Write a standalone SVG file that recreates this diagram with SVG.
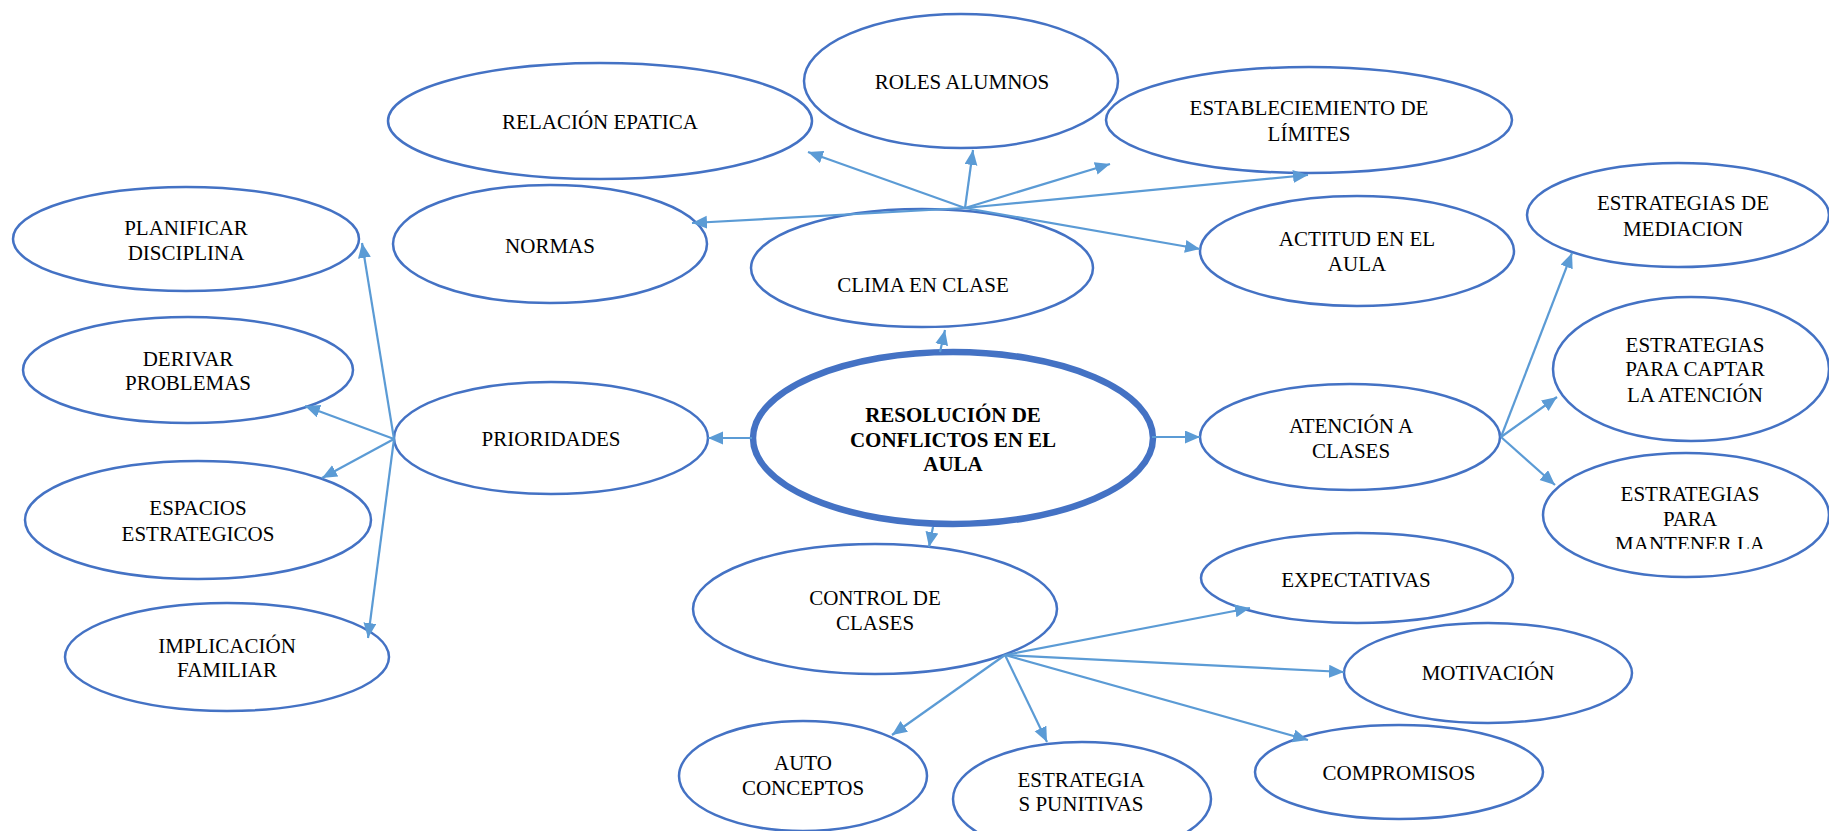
<svg xmlns="http://www.w3.org/2000/svg" width="1829" height="831" viewBox="0 0 1829 831">
<style>
.n ellipse{fill:#fff;stroke:#4472C4;stroke-width:2.5}
.n text{font-family:"Liberation Serif","Times New Roman",serif;font-size:21px;fill:#000;text-anchor:middle}
#central ellipse{stroke-width:6.5}
#central text{font-weight:bold}
#connectors line{stroke:#5B9BD5;stroke-width:2.2;marker-end:url(#ah)}
</style>
<defs>
<marker id="ah" markerUnits="userSpaceOnUse" markerWidth="16" markerHeight="14" refX="15" refY="6.5" orient="auto">
<path d="M0,0 L15,6.5 L0,13 Z" fill="#5B9BD5"/>
</marker>
<clipPath id="clipMant"><rect x="1540" y="440" width="289" height="109"/></clipPath>
</defs>
<rect width="1829" height="831" fill="#fff"/>

<g class="n" id="relacion"><ellipse cx="600" cy="121" rx="212" ry="58"/><text x="600" y="129">RELACIÓN EPATICA</text></g>
<g class="n" id="roles"><ellipse cx="961" cy="81" rx="157" ry="67"/><text x="962" y="89">ROLES ALUMNOS</text></g>
<g class="n" id="limites"><ellipse cx="1309" cy="120" rx="203" ry="53"/><text x="1309" y="115">ESTABLECIEMIENTO DE</text><text x="1309" y="141">LÍMITES</text></g>
<g class="n" id="normas"><ellipse cx="550" cy="244" rx="157" ry="59"/><text x="550" y="253">NORMAS</text></g>
<g class="n" id="clima"><ellipse cx="922" cy="268" rx="171" ry="59"/><text x="923" y="292">CLIMA EN CLASE</text></g>
<g class="n" id="actitud"><ellipse cx="1357" cy="251" rx="157" ry="55"/><text x="1357" y="246">ACTITUD EN EL</text><text x="1357" y="271">AULA</text></g>
<g class="n" id="planificar"><ellipse cx="186" cy="239" rx="173" ry="52"/><text x="186" y="235">PLANIFICAR</text><text x="186" y="260">DISCIPLINA</text></g>
<g class="n" id="derivar"><ellipse cx="188" cy="370" rx="165" ry="53"/><text x="188" y="366">DERIVAR</text><text x="188" y="390">PROBLEMAS</text></g>
<g class="n" id="prioridades"><ellipse cx="551" cy="438" rx="157" ry="56"/><text x="551" y="446">PRIORIDADES</text></g>
<g class="n" id="espacios"><ellipse cx="198" cy="520" rx="173" ry="59"/><text x="198" y="515">ESPACIOS</text><text x="198" y="541">ESTRATEGICOS</text></g>
<g class="n" id="implicacion"><ellipse cx="227" cy="657" rx="162" ry="54"/><text x="227" y="653">IMPLICACIÓN</text><text x="227" y="677">FAMILIAR</text></g>
<g class="n" id="central"><ellipse cx="953" cy="438" rx="200" ry="86"/><text x="953" y="422">RESOLUCIÓN DE</text><text x="953" y="447">CONFLICTOS EN EL</text><text x="953" y="471">AULA</text></g>
<g class="n" id="atencion"><ellipse cx="1350" cy="437" rx="150" ry="53"/><text x="1351" y="433">ATENCIÓN A</text><text x="1351" y="458">CLASES</text></g>
<g class="n" id="mediacion"><ellipse cx="1678" cy="215" rx="151" ry="52"/><text x="1683" y="210">ESTRATEGIAS DE</text><text x="1683" y="236">MEDIACION</text></g>
<g class="n" id="captar"><ellipse cx="1691" cy="369" rx="138" ry="72"/><text x="1695" y="352">ESTRATEGIAS</text><text x="1695" y="376">PARA CAPTAR</text><text x="1695" y="402">LA ATENCIÓN</text></g>
<g class="n" id="mantener"><ellipse cx="1686" cy="515" rx="143" ry="62"/><text x="1690" y="501">ESTRATEGIAS</text><text x="1690" y="526">PARA</text><text x="1690" y="551" clip-path="url(#clipMant)">MANTENER LA</text></g>
<g class="n" id="control"><ellipse cx="875" cy="609" rx="182" ry="65"/><text x="875" y="605">CONTROL DE</text><text x="875" y="630">CLASES</text></g>
<g class="n" id="expectativas"><ellipse cx="1357" cy="578" rx="156" ry="45"/><text x="1356" y="587">EXPECTATIVAS</text></g>
<g class="n" id="motivacion"><ellipse cx="1488" cy="673" rx="144" ry="50"/><text x="1488" y="680">MOTIVACIÓN</text></g>
<g class="n" id="compromisos"><ellipse cx="1399" cy="772" rx="144" ry="47"/><text x="1399" y="780">COMPROMISOS</text></g>
<g class="n" id="auto"><ellipse cx="803" cy="776" rx="124" ry="55"/><text x="803" y="770">AUTO</text><text x="803" y="795">CONCEPTOS</text></g>
<g class="n" id="punitivas"><ellipse cx="1082" cy="799" rx="129" ry="57"/><text x="1081" y="787">ESTRATEGIA</text><text x="1081" y="811">S PUNITIVAS</text></g>

<g id="connectors">
<line x1="965" y1="208" x2="808" y2="152"/>
<line x1="965" y1="208" x2="973" y2="150"/>
<line x1="965" y1="208" x2="1110" y2="164"/>
<line x1="965" y1="208" x2="1308" y2="175"/>
<line x1="965" y1="208" x2="1200" y2="249"/>
<line x1="965" y1="208" x2="692" y2="223"/>
<line x1="940" y1="352" x2="945" y2="330"/>
<line x1="752" y1="438" x2="708" y2="438"/>
<line x1="1152" y1="437" x2="1200" y2="437"/>
<line x1="933" y1="527" x2="929" y2="547"/>
<line x1="394" y1="439" x2="362" y2="243"/>
<line x1="394" y1="439" x2="305" y2="406"/>
<line x1="394" y1="439" x2="322" y2="478"/>
<line x1="394" y1="439" x2="368" y2="638"/>
<line x1="1005" y1="655" x2="1250" y2="608"/>
<line x1="1005" y1="655" x2="1344" y2="672"/>
<line x1="1005" y1="655" x2="1308" y2="740"/>
<line x1="1005" y1="655" x2="1047" y2="742"/>
<line x1="1005" y1="655" x2="892" y2="735"/>
<line x1="1501" y1="437" x2="1572" y2="253"/>
<line x1="1501" y1="437" x2="1557" y2="397"/>
<line x1="1501" y1="437" x2="1555" y2="485"/>
</g>
</svg>
